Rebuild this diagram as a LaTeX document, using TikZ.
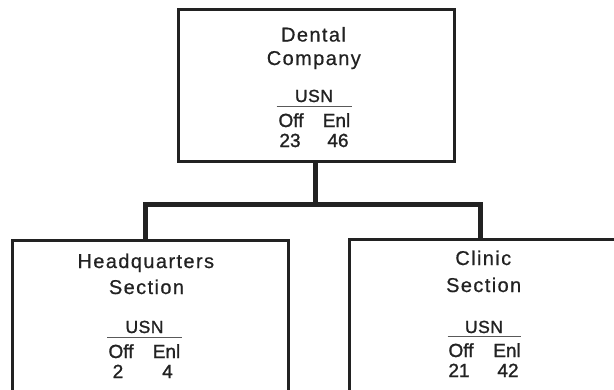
\documentclass[tikz,border=0pt]{standalone}
\usepackage{fontspec}
\setmainfont{Liberation Sans}
\newfontfamily\titlefont[LetterSpace=7,FakeBold=0.6]{Liberation Sans}
\newfontfamily\usnfont[LetterSpace=3,FakeBold=1.3]{Liberation Sans}
\newfontfamily\cntfont[FakeBold=1.3]{Liberation Sans}
\definecolor{ink}{HTML}{222222}
\begin{document}
\begin{tikzpicture}[x=1pt,y=-1pt,
  box/.style={draw=ink, line width=3pt, inner sep=0pt, outer sep=0pt, minimum width=276.3pt},
  conn/.style={draw=ink, line width=5pt, line join=miter},
  ttl/.style={anchor=base, inner sep=0pt, text=ink, font=\titlefont\fontsize{20}{22}\selectfont},
  usn/.style={anchor=base, inner sep=0pt, text=ink, font=\usnfont\fontsize{17.5}{19}\selectfont},
  cnt/.style={anchor=base, inner sep=0pt, text=ink, font=\cntfont\fontsize{19}{21}\selectfont},
  rulel/.style={draw=ink!75, line width=1pt}]
\useasboundingbox (0,0) rectangle (614,389);
\clip (0,0) rectangle (614,389);
\fill[white] (0,0) rectangle (614,389);
% boxes
\node[box, minimum width=276pt, minimum height=152.4pt] (co) at (316,85.5) {};
\node[box, minimum height=159.3pt] (hq) at (150.35,320.35) {};
\node[box, minimum height=161pt] (cl) at (487.35,319.5) {};
% connectors
\coordinate (jt) at (315,204);
\coordinate (jl) at (145.5,204);
\coordinate (jr) at (480.5,204);
\draw[conn] (jt |- co.south) -- (jt);
\draw[conn] (jl |- hq.north) -- (jl) -- (jr) -- (jr |- cl.north);
% top box text
\node[ttl] (t1) at (313.5,41.5) {Dental};
\node[ttl] (t2) at (313.8,65) {Company};
\node[usn] (u1) at (314,102) {USN};
\draw[rulel] ([xshift=-37.5pt,yshift=-4pt]u1.base) -- ([xshift=37.5pt,yshift=-4pt]u1.base);
\node[cnt] (o1) at (291,127) {Off};
\node[cnt] (e1) at (336.5,127) {Enl};
\node[cnt] (n1) at (290,147) {23};
\node[cnt] (m1) at (338,147) {46};
% left box text
\node[ttl] (t3) at (145.8,268) {Headquarters};
\node[ttl] (t4) at (146.5,294) {Section};
\node[usn] (u2) at (144.5,333) {USN};
\draw[rulel] ([xshift=-37.5pt,yshift=-4pt]u2.base) -- ([xshift=37.5pt,yshift=-4pt]u2.base);
\node[cnt] (o2) at (121,358) {Off};
\node[cnt] (e2) at (166.5,358) {Enl};
\node[cnt] (n2) at (118,378) {2};
\node[cnt] (m2) at (167.5,378) {4};
% right box text
\node[ttl] (t5) at (483.3,265) {Clinic};
\node[ttl] (t6) at (483.7,292) {Section};
\node[usn] (u3) at (484,333) {USN};
\draw[rulel] ([xshift=-36.5pt,yshift=-3.5pt]u3.base) -- ([xshift=36.5pt,yshift=-3.5pt]u3.base);
\node[cnt] (o3) at (461,357) {Off};
\node[cnt] (e3) at (507,357) {Enl};
\node[cnt] (n3) at (459,377) {21};
\node[cnt] (m3) at (508,377) {42};
\end{tikzpicture}
\end{document}
